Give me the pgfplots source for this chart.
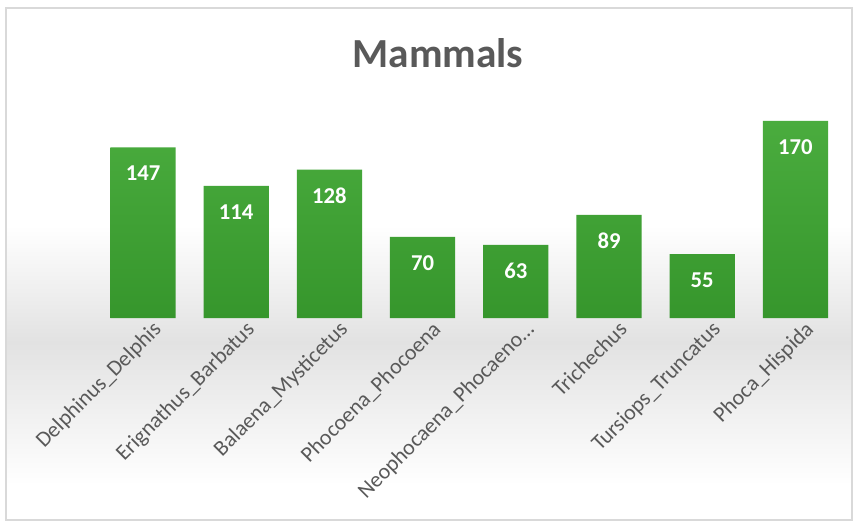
\documentclass[border=0pt]{standalone}
\usepackage{fontspec}
\setmainfont{Carlito}
\usepackage{pgfplots}
\pgfplotsset{compat=1.18}
\definecolor{bartop}{RGB}{74,172,62}
\definecolor{barbot}{RGB}{54,150,44}
\definecolor{lbl}{RGB}{89,89,89}
\definecolor{frame}{RGB}{217,217,217}
\definecolor{bandgray}{RGB}{226,226,226}
\begin{document}
\begin{tikzpicture}[x=0.75pt,y=0.75pt]
\useasboundingbox (0,0) rectangle (860,525);
\fill[white] (0,0) rectangle (860,525);
\shade[top color=white,bottom color=bandgray] (7,300) rectangle (851,182);
\shade[top color=bandgray,bottom color=white] (7,182.5) rectangle (851,40);
\draw[frame,line width=1.5pt] (6,5) rectangle (852,517);
\node[font=\bfseries\fontsize{31}{36}\selectfont, text=lbl] at (438,472) {Mammals};
\begin{axis}[
  at={(72.3pt,155.25pt)}, anchor=south west,
  width=559.2pt, height=174pt, scale only axis,
  xmin=-0.5, xmax=7.5, ymin=0, ymax=200,
  axis line style={draw=none},
  major tick length=0pt,
  ytick=\empty,
  xtick={0,1,2,3,4,5,6,7},
  xticklabels={{Delphinus\_Delphis},{Erignathus\_Barbatus},{Balaena\_Mysticetus},{Phocoena\_Phocoena},{Neophocaena\_Phocaeno\ldots},{Trichechus},{Tursiops\_Truncatus},{Phoca\_Hispida}},
  x tick label style={rotate=45, anchor=north east, font=\fontsize{16.5}{19}\selectfont, text=lbl, xshift=7pt, yshift=-2pt},
  bar width=0.7,
  nodes near coords,
  nodes near coords align={anchor=center},
  every node near coord/.append style={font=\bfseries\fontsize{17}{20}\selectfont, text=white, yshift=-19.5pt, /pgf/number format/assume math mode=true},
  clip=false,
]
\addplot[ybar, draw=none, top color=bartop, bottom color=barbot] coordinates {
(0,147) (1,114) (2,128) (3,70) (4,63) (5,89) (6,55) (7,170)
};
\end{axis}
\end{tikzpicture}
\end{document}
